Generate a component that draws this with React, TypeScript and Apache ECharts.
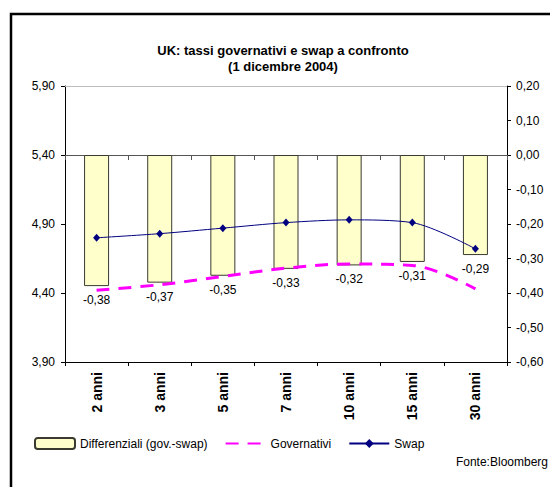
import React, { useEffect, useRef } from "react";
import * as echarts from "echarts";

// Scadenze della curva
const categories = ["2 anni", "3 anni", "5 anni", "7 anni", "10 anni", "15 anni", "30 anni"];
// Differenziali (gov.-swap), scala destra
const differenziali = [-0.38, -0.37, -0.35, -0.33, -0.32, -0.31, -0.29];
// Rendimenti governativi, scala sinistra
const governativi = [4.42, 4.46, 4.52, 4.58, 4.61, 4.6, 4.43];
// Tassi swap, scala sinistra
const swap = [4.8, 4.83, 4.87, 4.91, 4.93, 4.91, 4.72];
// Tacche dell'asse sinistro
const leftTicks = [3.9, 4.4, 4.9, 5.4, 5.9];

const FONT = "'Liberation Sans', Arial, sans-serif";

const fmt = (v: number) => {
  const x = Math.abs(v) < 1e-9 ? 0 : v;
  return x.toFixed(2).replace(".", ",");
};

export default function App() {
  const ref = useRef<HTMLDivElement>(null);

  useEffect(() => {
    if (!ref.current) return;
    const chart = echarts.init(ref.current, undefined, { renderer: "svg" });
    chart.setOption({
      animation: false,
      backgroundColor: "#ffffff",
      textStyle: { fontFamily: FONT, color: "#000" },
      title: {
        text: "UK: tassi governativi e swap a confronto\n(1 dicembre 2004)",
        left: 283,
        top: 42,
        textAlign: "center",
        padding: 0,
        textStyle: {
          fontFamily: FONT,
          fontSize: 13,
          fontWeight: "bold",
          color: "#000",
          lineHeight: 16,
        },
      },
      legend: {
        left: 34,
        top: 437,
        itemWidth: 40,
        itemHeight: 11,
        itemGap: 17,
        padding: 0,
        textStyle: { fontFamily: FONT, fontSize: 12, color: "#000" },
        data: [
          "Differenziali (gov.-swap)",
          // the dashed line alone, without a marker
          { name: "Governativi", itemStyle: { opacity: 0 } },
          "Swap",
        ],
      },
      grid: { left: 65, right: 43, top: 86, bottom: 125, containLabel: false },
      xAxis: [
        {
          type: "category",
          data: categories,
          position: "bottom",
          axisLine: { onZero: false, lineStyle: { color: "#000", width: 1 } },
          axisTick: { show: true, length: 4, lineStyle: { color: "#000" } },
          axisLabel: {
            interval: 0,
            rotate: 90,
            margin: 10,
            fontFamily: FONT,
            fontSize: 14,
            fontWeight: "bold",
            color: "#000",
          },
          splitLine: { show: false },
        },
        {
          type: "category",
          data: categories,
          position: "bottom",
          axisLine: {
            onZero: true,
            onZeroAxisIndex: 1,
            lineStyle: { color: "#555", width: 1 },
          },
          axisTick: { show: true, length: 5, lineStyle: { color: "#555" } },
          axisLabel: { show: false },
          splitLine: { show: false },
        },
        {
          type: "category",
          data: categories,
          position: "top",
          axisLine: { onZero: false, lineStyle: { color: "#bdbdbd", width: 1 } },
          axisTick: { show: false },
          axisLabel: { show: false },
          splitLine: { show: false },
        },
      ],
      yAxis: [
        {
          type: "value",
          position: "left",
          min: 3.9,
          max: 5.9,
          axisLine: { show: true, lineStyle: { color: "#000", width: 1 } },
          axisTick: { show: true, length: 4, customValues: leftTicks, lineStyle: { color: "#000" } },
          axisLabel: {
            customValues: leftTicks,
            margin: 10,
            fontFamily: FONT,
            fontSize: 12,
            color: "#000",
            formatter: (v: number) => fmt(v),
          },
          splitLine: { show: false },
        },
        {
          type: "value",
          position: "right",
          min: -0.6,
          max: 0.2,
          interval: 0.1,
          axisLine: { show: true, lineStyle: { color: "#000", width: 1 } },
          axisTick: { show: true, length: 4, lineStyle: { color: "#000" } },
          axisLabel: {
            margin: 9,
            fontFamily: FONT,
            fontSize: 12,
            color: "#000",
            formatter: (v: number) => fmt(v),
          },
          splitLine: { show: false },
        },
      ],
      series: [
        {
          name: "Differenziali (gov.-swap)",
          type: "bar",
          xAxisIndex: 0,
          yAxisIndex: 1,
          data: differenziali,
          barWidth: 25,
          itemStyle: { color: "#ffffcc", borderColor: "#3a3a30", borderWidth: 1 },
          label: {
            show: true,
            position: "bottom",
            distance: 8,
            fontFamily: FONT,
            fontSize: 12,
            color: "#000",
            formatter: (p: any) => fmt(p.value),
          },
          z: 2,
        },
        {
          name: "Governativi",
          type: "line",
          xAxisIndex: 0,
          yAxisIndex: 0,
          data: governativi,
          smooth: 0.35,
          showSymbol: false,
          symbol: "none",
          lineStyle: { color: "#ff00ff", width: 3, type: [13, 9] },
          itemStyle: { color: "#ff00ff" },
          z: 3,
        },
        {
          name: "Swap",
          type: "line",
          xAxisIndex: 0,
          yAxisIndex: 0,
          data: swap,
          smooth: 0.3,
          symbol: "diamond",
          symbolSize: [7, 8],
          lineStyle: { color: "#000080", width: 1 },
          itemStyle: { color: "#000080" },
          z: 4,
        },
      ],
      graphic: [
        {
          type: "rect",
          silent: true,
          shape: { x: 11, y: 14, width: 600, height: 520 },
          style: { fill: "none", stroke: "#000", lineWidth: 2.5 },
          z: 100,
        },
        {
          type: "text",
          x: 548,
          y: 462,
          style: {
            text: "Fonte:Bloomberg",
            fontFamily: FONT,
            fontSize: 12,
            fill: "#000",
            textAlign: "right",
            textVerticalAlign: "middle",
          },
        },
      ],
    });
    return () => chart.dispose();
  }, []);

  return (
    <div
      ref={ref}
      style={{ position: "absolute", left: 0, top: 0, width: 550, height: 487 }}
    />
  );
}
